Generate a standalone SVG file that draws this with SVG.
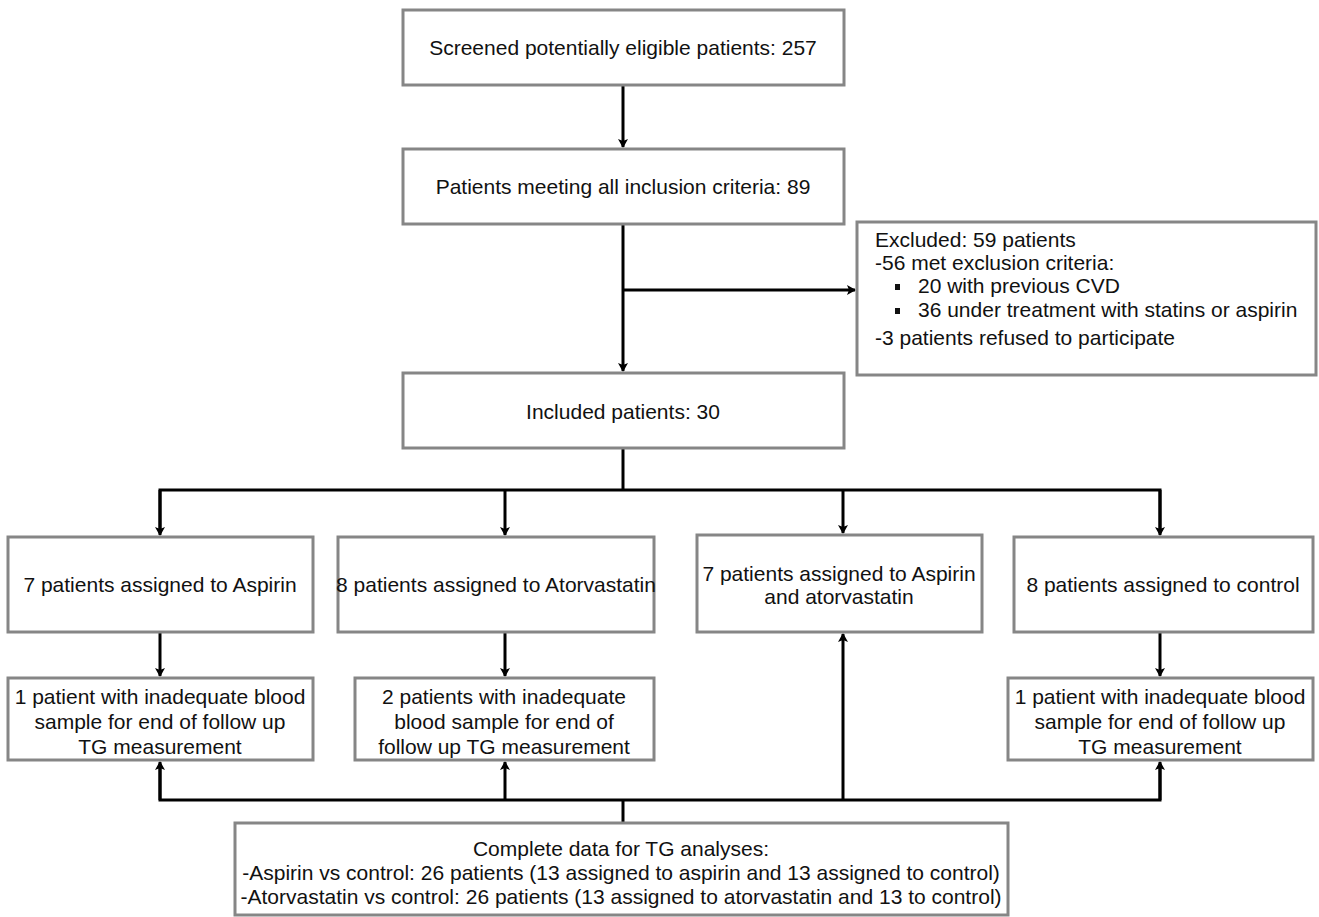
<svg xmlns="http://www.w3.org/2000/svg" width="1319" height="917" viewBox="0 0 1319 917">
<style>
.box{fill:#fff;stroke:#868686;stroke-width:3}
.t{font-family:"Liberation Sans",Arial,sans-serif;font-size:21px;fill:#111}
.c{text-anchor:middle}
.ln{fill:none;stroke:#000;stroke-width:3}
</style>
<defs>
<marker id="ah" markerWidth="10" markerHeight="10" refX="8" refY="5" orient="auto" markerUnits="userSpaceOnUse">
<path d="M0,0 L9,5 L0,10 L2,5 z" fill="#000"/>
</marker>
</defs>
<rect width="1319" height="917" fill="#fff"/>
<g id="connectors">
<line class="ln" x1="623" y1="85" x2="623" y2="147" marker-end="url(#ah)"/>
<line class="ln" x1="623" y1="224" x2="623" y2="371" marker-end="url(#ah)"/>
<line class="ln" x1="623" y1="290" x2="855" y2="290" marker-end="url(#ah)"/>
<polyline class="ln" points="623,448 623,490"/>
<polyline class="ln" points="160,533 160,490 1160,490 1160,533"/>
<line class="ln" x1="160" y1="490" x2="160" y2="535" marker-end="url(#ah)"/>
<line class="ln" x1="505" y1="490" x2="505" y2="535" marker-end="url(#ah)"/>
<line class="ln" x1="843" y1="490" x2="843" y2="533" marker-end="url(#ah)"/>
<line class="ln" x1="1160" y1="490" x2="1160" y2="535" marker-end="url(#ah)"/>
<line class="ln" x1="160" y1="632" x2="160" y2="676" marker-end="url(#ah)"/>
<line class="ln" x1="505" y1="632" x2="505" y2="676" marker-end="url(#ah)"/>
<line class="ln" x1="1160" y1="632" x2="1160" y2="676" marker-end="url(#ah)"/>
<polyline class="ln" points="160,764 160,800 1160,800 1160,764"/>
<line class="ln" x1="160" y1="800" x2="160" y2="762" marker-end="url(#ah)"/>
<line class="ln" x1="505" y1="800" x2="505" y2="762" marker-end="url(#ah)"/>
<line class="ln" x1="1160" y1="800" x2="1160" y2="762" marker-end="url(#ah)"/>
<line class="ln" x1="843" y1="800" x2="843" y2="634" marker-end="url(#ah)"/>
<line class="ln" x1="623" y1="800" x2="623" y2="823"/>
</g>
<g id="n1"><rect class="box" x="403" y="10" width="441" height="75"/>
<text class="t c" x="623" y="55">Screened potentially eligible patients: 257</text></g>
<g id="n2"><rect class="box" x="403" y="149" width="441" height="75"/>
<text class="t c" x="623" y="194">Patients meeting all inclusion criteria: 89</text></g>
<g id="n3"><rect class="box" x="857" y="222" width="459" height="153"/>
<text class="t" x="875" y="247">Excluded: 59 patients</text>
<text class="t" x="875" y="270">-56 met exclusion criteria:</text>
<rect x="895" y="284" width="5" height="6" fill="#111"/>
<text class="t" x="918" y="293">20 with previous CVD</text>
<rect x="895" y="308" width="5" height="6" fill="#111"/>
<text class="t" x="918" y="317">36 under treatment with statins or aspirin</text>
<text class="t" x="875" y="345">-3 patients refused to participate</text></g>
<g id="n4"><rect class="box" x="403" y="373" width="441" height="75"/>
<text class="t c" x="623" y="419">Included patients: 30</text></g>
<g id="n5"><rect class="box" x="8" y="537" width="305" height="95"/>
<text class="t c" x="160" y="592">7 patients assigned to Aspirin</text></g>
<g id="n6"><rect class="box" x="338" y="537" width="316" height="95"/>
<text class="t c" x="496" y="592">8 patients assigned to Atorvastatin</text></g>
<g id="n7"><rect class="box" x="697" y="535" width="285" height="97"/>
<text class="t c" x="839" y="581">7 patients assigned to Aspirin</text>
<text class="t c" x="839" y="604">and atorvastatin</text></g>
<g id="n8"><rect class="box" x="1014" y="537" width="299" height="95"/>
<text class="t c" x="1163" y="592">8 patients assigned to control</text></g>
<g id="n9"><rect class="box" x="8" y="678" width="305" height="82"/>
<text class="t c" x="160" y="704">1 patient with inadequate blood</text>
<text class="t c" x="160" y="729">sample for end of follow up</text>
<text class="t c" x="160" y="754">TG measurement</text></g>
<g id="n10"><rect class="box" x="355" y="678" width="299" height="82"/>
<text class="t c" x="504" y="704">2 patients with inadequate</text>
<text class="t c" x="504" y="729">blood sample for end of</text>
<text class="t c" x="504" y="754">follow up TG measurement</text></g>
<g id="n11"><rect class="box" x="1008" y="678" width="305" height="82"/>
<text class="t c" x="1160" y="704">1 patient with inadequate blood</text>
<text class="t c" x="1160" y="729">sample for end of follow up</text>
<text class="t c" x="1160" y="754">TG measurement</text></g>
<g id="n12"><rect class="box" x="235" y="823" width="773" height="92"/>
<text class="t c" x="621" y="856">Complete data for TG analyses:</text>
<text class="t c" x="621" y="880">-Aspirin vs control: 26 patients (13 assigned to aspirin and 13 assigned to control)</text>
<text class="t c" x="621" y="904">-Atorvastatin vs control: 26 patients (13 assigned to atorvastatin and 13 to control)</text></g>
</svg>
